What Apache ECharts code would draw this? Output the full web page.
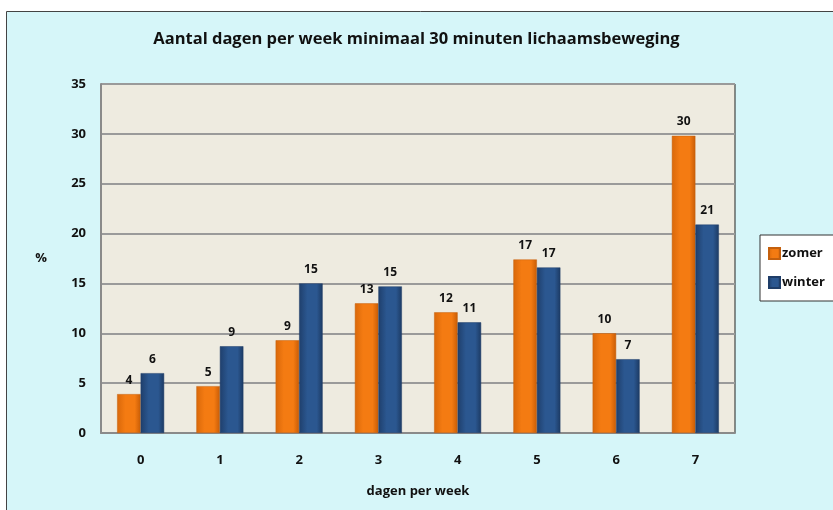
<!DOCTYPE html>
<html>
<head>
<meta charset="utf-8">
<script src="https://cdn.jsdelivr.net/npm/echarts@6/dist/echarts.min.js"></script>
<style>
  html, body { margin: 0; padding: 0; background: #ffffff; }
  #chart { width: 833px; height: 510px; }
</style>
</head>
<body>
<div id="chart"></div>
<script>
const categories = ['0', '1', '2', '3', '4', '5', '6', '7']
const zomer = [3.9, 4.7, 9.3, 13.0, 12.1, 17.4, 10.0, 29.8]
const winter = [6.0, 8.7, 15.0, 14.7, 11.1, 16.6, 7.4, 20.9]
const seriesNames = ['zomer', 'winter']

const font = '"Open Sans", "Noto Sans", sans-serif'

function barGradient(dark, mid, edge) {
  return new echarts.graphic.LinearGradient(0, 0, 1, 0, [
    { offset: 0, color: dark },
    { offset: 0.35, color: mid },
    { offset: 0.75, color: mid },
    { offset: 1, color: edge }
  ])
}

const chart = echarts.init(document.getElementById('chart'))
const labelStyle = {
  show: true,
  position: 'top',
  distance: 8,
  fontFamily: font,
  fontWeight: 'bold',
  fontSize: 12,
  color: '#111',
  formatter: p => Math.round(p.value)
}

chart.setOption({
  animation: false,
  textStyle: { fontFamily: font },
  graphic: [
    {
      type: 'rect',
      z: -10,
      shape: { x: 6.5, y: 11.5, width: 900, height: 600 },
      style: { fill: '#d6f6f9', stroke: '#444', lineWidth: 1 }
    }
  ],
  title: {
    text: 'Aantal dagen per week minimaal 30 minuten lichaamsbeweging',
    left: 'center',
    top: 26,
    textStyle: { fontFamily: font, fontWeight: 'bold', fontSize: 16.5, color: '#111' }
  },
  legend: {
    data: seriesNames,
    orient: 'vertical',
    left: 760,
    top: 235,
    icon: 'rect',
    itemWidth: 11,
    itemHeight: 11,
    itemGap: 16,
    padding: [12, 20, 12, 8],
    backgroundColor: '#ffffff',
    borderColor: '#333',
    borderWidth: 1,
    textStyle: { fontFamily: font, fontWeight: 'bold', fontSize: 13, color: '#111', padding: [0, 0, 0, -3] }
  },
  grid: {
    left: 101,
    right: 98,
    top: 84,
    bottom: 77,
    show: true,
    backgroundColor: '#eeebe0',
    borderColor: '#222',
    borderWidth: 1
  },
  xAxis: {
    type: 'category',
    data: categories,
    name: 'dagen per week',
    nameLocation: 'middle',
    nameGap: 52,
    nameTextStyle: { fontFamily: font, fontWeight: 'bold', fontSize: 13, color: '#111' },
    axisLine: { lineStyle: { color: '#8a8a8a', width: 2 } },
    axisTick: { show: false },
    axisLabel: { margin: 21, fontFamily: font, fontWeight: 'bold', fontSize: 13, color: '#111' }
  },
  yAxis: {
    type: 'value',
    min: 0,
    max: 35,
    interval: 5,
    name: '%',
    nameLocation: 'middle',
    nameRotate: 0,
    nameGap: 54,
    nameTextStyle: { fontFamily: font, fontWeight: 'bold', fontSize: 13, color: '#111' },
    axisLine: { show: true, lineStyle: { color: '#8a8a8a', width: 2 } },
    axisTick: { show: false },
    splitLine: { lineStyle: { color: '#9a9a9a', width: 2 } },
    axisLabel: { margin: 15, fontFamily: font, fontWeight: 'bold', fontSize: 13, color: '#111' }
  },
  series: [
    {
      name: 'zomer',
      type: 'bar',
      data: zomer,
      barWidth: 23.5,
      barGap: '0%',
      itemStyle: {
        color: barGradient('#d9680a', '#f47b12', '#c85c06'),
        borderColor: '#c4600e',
        borderWidth: 0.5
      },
      label: labelStyle
    },
    {
      name: 'winter',
      type: 'bar',
      data: winter,
      barWidth: 23.5,
      itemStyle: {
        color: barGradient('#1f3f6c', '#2b5790', '#1c3a63'),
        borderColor: '#1f3d68',
        borderWidth: 0.5
      },
      label: labelStyle
    }
  ]
})
</script>
</body>
</html>
